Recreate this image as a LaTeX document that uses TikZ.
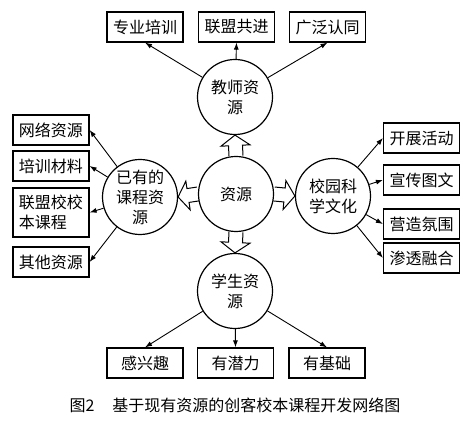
\documentclass[tikz,border=0pt]{standalone}
\usepackage{fontspec}
\setmainfont{Noto Sans CJK SC}
\usetikzlibrary{arrows.meta,calc}

\begin{document}
\begin{tikzpicture}[x=1pt, y=-1pt,
    every node/.style={font=\fontsize{16pt}{20pt}\selectfont},
    hub/.style={draw, circle, line width=1.2pt, minimum size=75pt, inner sep=0pt, align=center},
    item/.style={draw, rectangle, line width=1.2pt, minimum width=76pt, minimum height=30pt, inner sep=0pt, align=left},
    link/.style={line width=0.9pt, -{Latex[length=7pt,width=5pt]}}]
    \useasboundingbox (0,0) rectangle (474,427);

    % Draw circles
    \node[hub] (res) at (236,194) {资源};
    \node[hub] (teacher) at (235,97) {教师资\\源};
    \node[hub] (course) at (140,197) {已有的\\课程资\\源};
    \node[hub] (culture) at (333,196) {校园科\\学文化};
    \node[hub] (student) at (235,291) {学生资\\源};

    % Hollow arrows from the centre
    \foreach \a/\b in {res.north/teacher.south, res.west/course.east, res.east/culture.west, res.south/student.north}
    {
        \coordinate (m) at ($(\a)!0.5!(\b)$);
        \draw[line width=1pt] ($(\a)!7pt!90:(\b)$) -- ($(m)!7pt!90:(\b)$) -- ($(m)!14.5pt!90:(\b)$) -- (\b)
            -- ($(m)!14.5pt!-90:(\b)$) -- ($(m)!7pt!-90:(\b)$) -- ($(\a)!7pt!-90:(\b)$);
    }

    % Boxes at the top
    \node[item] (pro) at (145,27) {专业培训};
    \node[item] (league) at (236.5,27) {联盟共进};
    \node[item] (agree) at (327.5,27) {广泛认同};

    % Boxes on the left
    \node[item] (net) at (51,130) {网络资源};
    \node[item] (material) at (51,166) {培训材料};
    \node[item, minimum height=49pt] (school) at (51,212.5) {联盟校校\\本课程};
    \node[item] (other) at (51,262) {其他资源};

    % Boxes on the right
    \node[item] (activity) at (421.5,138) {开展活动};
    \node[item] (publicity) at (421.5,180) {宣传图文};
    \node[item] (atmos) at (421.5,224) {营造氛围};
    \node[item] (blend) at (421.5,258) {渗透融合};

    % Boxes at the bottom
    \node[item] (interest) at (145,363) {感兴趣};
    \node[item] (potential) at (235.5,363) {有潜力};
    \node[item] (basis) at (327,363) {有基础};

    % Draw arrows
    \draw[link] (teacher) -- (pro.south);
    \draw[link] (teacher) -- (league.south);
    \draw[link] (teacher) -- (agree.south);
    \draw[link] (course) -- (net.east);
    \draw[link] (course) -- (material.east);
    \draw[link] (course) -- (school.east);
    \draw[link] (course) -- (other.east);
    \draw[link] (culture) -- (activity.west);
    \draw[link] (culture) -- (publicity.west);
    \draw[link] (culture) -- (atmos.west);
    \draw[link] (culture) -- (blend.west);
    \draw[link] (student) -- (interest.north);
    \draw[link] (student) -- (potential.north);
    \draw[link] (student) -- (basis.north);

    % Caption
    \node (caption) at (235,405) {图2\hspace{18pt}基于现有资源的创客校本课程开发网络图};

\end{tikzpicture}
\end{document}
